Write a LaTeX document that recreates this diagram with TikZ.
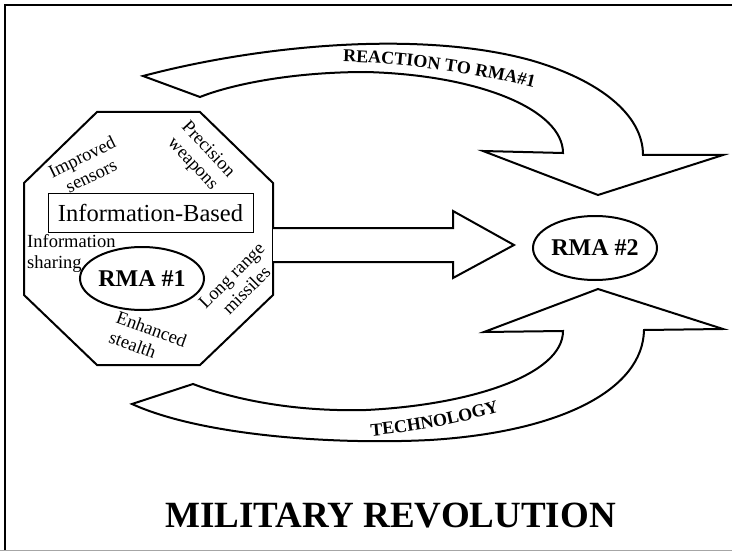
\documentclass[tikz,border=0pt]{standalone}
\usepackage{fontspec}
\setmainfont{Liberation Serif}
\usetikzlibrary{shapes.geometric,decorations.text}
\begin{document}
\begin{tikzpicture}[x=1pt,y=-1pt,
  outl/.style={line width=2pt, line join=miter, fill=white},
  lbl/.style={font=\fontsize{18.5}{21}\selectfont, align=center, inner sep=0pt},
  rma/.style={draw, ellipse, line width=2pt, minimum width=124pt, minimum height=63pt,
    font=\bfseries\fontsize{24}{24}\selectfont, inner sep=0pt}]
\useasboundingbox (0,0) rectangle (732,551);
% frame
\draw[line width=2pt] (5,551) -- (5,5) -- (732,5);
\draw[black!35, line width=1pt] (0,550) -- (732,550);

% top curved arrow (reaction)
\draw[outl] (143,76) .. controls (260,45) and (420,30) .. (530,60)
  .. controls (600,80) and (643,115) .. (643,155)
  -- (723,155) -- (598,195) -- (483,151) -- (563,153)
  .. controls (563,110) and (480,75) .. (366,72)
  .. controls (290,72) and (230,85) .. (200,97) -- cycle;
\path[decorate, decoration={text along path, text align=left,
  text={|\bfseries\fontsize{18}{18}\selectfont|REACTION TO RMA{\#}1}}]
  (343,62) .. controls (400,63) and (480,72) .. (560,95);

% bottom curved arrow (technology)
\draw[outl] (132,404) .. controls (200,435) and (330,445) .. (430,440)
  .. controls (560,432) and (643,390) .. (644,330)
  -- (723,329) -- (598,289) -- (484,332) -- (563,331)
  .. controls (563,375) and (470,405) .. (366,410)
  .. controls (290,412) and (230,398) .. (193,384) -- cycle;
\path[decorate, decoration={text along path, text align=left,
  text={|\bfseries\fontsize{18}{18}\selectfont|TECHNOLOGY}}]
  (371,436) .. controls (410,433) and (460,425) .. (520,405);

% octagon
\draw[outl] (97,112) -- (200,112) -- (273,183) -- (273,295) -- (200,365)
  -- (97,365) -- (24,295) -- (24,183) -- cycle;

% straight arrow
\draw[outl] (273,228) -- (453,228) -- (453,211) -- (514,245) -- (453,278)
  -- (453,262) -- (273,262);

% octagon contents
\node[draw, line width=0.9pt, minimum width=205pt, minimum height=39pt, inner sep=0pt,
  font=\fontsize{24.5}{24}\selectfont] (info) at (150.5,212.5) {Information-Based};
\node[rma] (rma1) at (142,278.5) {RMA \#1};
\node[lbl, rotate=26] (sensors) at (86.5,166) {Improved\\sensors};
\node[lbl, rotate=-47] (precision) at (200,157) {Precision\\weapons};
\node[lbl, rotate=45] (missiles) at (239,283) {Long range\\missiles};
\node[lbl, rotate=-20, align=left] (stealth) at (148,339) {Enhanced\\stealth};
\node[lbl, align=left, anchor=north west] (sharing) at (27,234) {Information\\sharing};

% RMA #2
\node[rma, minimum height=64pt] (rma2) at (595,248) {RMA \#2};

% title
\node[font=\bfseries\fontsize{37}{37}\selectfont, inner sep=0pt] (title) at (390.5,516) {MILITARY REVOLUTION};
\end{tikzpicture}
\end{document}
